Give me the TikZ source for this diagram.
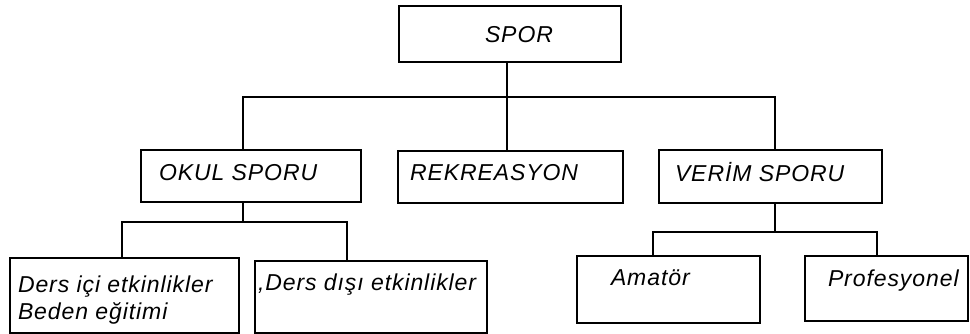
\documentclass[tikz,border=0pt]{standalone}
\usepackage{fontspec}
\setmainfont{Liberation Sans}
\newfontfamily\boxfont[LetterSpace=4]{Liberation Sans}
\usepackage{tikz}
\usetikzlibrary{calc}
\usetikzlibrary{positioning}

\begin{document}
\begin{tikzpicture}[-,auto,x=1pt,y=-1pt,line width=1.1pt]
	\tikzstyle{box}=[draw, rectangle, inner sep=0pt]
	\tikzstyle{lbl}=[anchor=west, inner sep=0pt, align=left, font=\boxfont\itshape\fontsize{23}{27}\selectfont]
	\useasboundingbox (0,0) rectangle (970,334);
			% boxes
			\node[box, minimum width=222, minimum height=56] (spor) at (510,34) {};
			\node[box, minimum width=220, minimum height=52] (okul) at (251,176) {};
			\node[box, minimum width=225, minimum height=52] (rek) at (510.5,177) {};
			\node[box, minimum width=223, minimum height=53] (verim) at (770.5,176.5) {};
			\node[box, minimum width=229, minimum height=75] (ic) at (124.5,295.5) {};
			\node[box, minimum width=232, minimum height=72] (dis) at (371,297) {};
			\node[box, minimum width=183, minimum height=67] (amator) at (668.5,289.5) {};
			\node[box, minimum width=163, minimum height=65] (prof) at (886.5,288.5) {};
			% texts
			\node[lbl] (sporT) at ([shift={(86,29)}]spor.north west) {SPOR};
			\node[lbl] (okulT) at ([shift={(18,23)}]okul.north west) {OKUL SPORU};
			\node[lbl] (rekT) at ([shift={(12,22)}]rek.north west) {REKREASYON};
			\node[lbl] (verimT) at ([shift={(16,23)}]verim.north west) {VERİM SPORU};
			\node[lbl] (icT) at ([shift={(8,43)}]ic.north west) {Ders içi etkinlikler\\Beden eğitimi};
			\node[lbl] (disT) at ([shift={(3,24)}]dis.north west) {,Ders dışı etkinlikler};
			\node[lbl] (amatorT) at ([shift={(34,22)}]amator.north west) {Amatör};
			\node[lbl] (profT) at ([shift={(23,25)}]prof.north west) {Profesyonel};
			% bus points
			\coordinate (tl) at (243,97);
			\coordinate (tm) at (507,97);
			\coordinate (tr) at (775,97);
			\coordinate (ol) at (122,222);
			\coordinate (or) at (347,222);
			\coordinate (vl) at (653,232);
			\coordinate (vr) at (877,232);
			% connectors
			\draw (spor.south -| tm) -- (rek.north -| tm);
			\draw (okul.north -| tl) -- (tl) -- (tr) -- (verim.north -| tr);
			\draw (okul.south -| tl) -- (tl |- ol);
			\draw (ic.north -| ol) -- (ol) -- (or) -- (dis.north -| or);
			\draw (verim.south -| tr) -- (tr |- vl);
			\draw (amator.north -| vl) -- (vl) -- (vr) -- (prof.north -| vr);
\end{tikzpicture}
\end{document}
